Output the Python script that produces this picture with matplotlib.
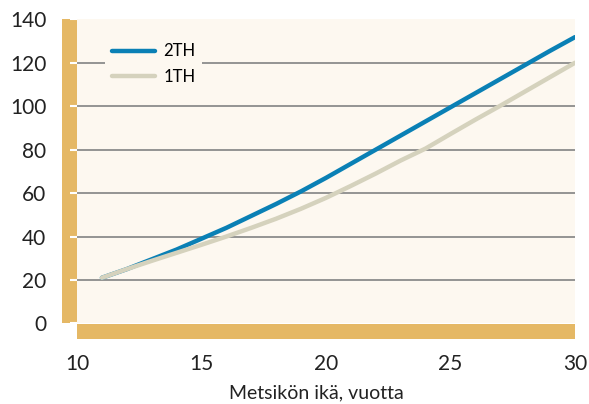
import matplotlib.pyplot as plt
from matplotlib.patches import Rectangle

# Data
age = [11, 12, 13, 14, 15, 16, 17, 18, 19, 20,
       21, 22, 23, 24, 25, 26, 27, 28, 29, 30]
th2 = [21, 25, 29.5, 34, 39, 44, 49.5, 55, 60.8, 67,
       73.5, 80, 86.5, 93, 99.5, 106, 112.5, 119, 125.5, 131.8]
th1 = [21, 25, 28.8, 32.5, 36.2, 40, 44, 48.2, 52.8, 57.8,
       63.3, 69, 75, 80.5, 87.2, 93.8, 100.2, 106.8, 113.4, 120]
x_ticks = [10, 15, 20, 25, 30]
y_ticks = [0, 20, 40, 60, 80, 100, 120, 140]

blue = "#0a80b5"
beige = "#d5d2bd"
gold = "#e5b865"
cream = "#fdf8f0"

plt.rcParams['font.family'] = ['Lato', 'DejaVu Sans']

W, H = 589, 404
fig = plt.figure(figsize=(W / 100, H / 100), dpi=100)
ax = fig.add_axes([77 / W, (H - 323.4) / H, (575 - 77) / W, (323.4 - 19.3) / H])
ax.set_facecolor(cream)

ax.set_xlim(10, 30)
ax.set_ylim(0, 140)
ax.set_xticks(x_ticks)
ax.set_yticks(y_ticks)

for y in y_ticks[1:-1]:
    ax.axhline(y, color="#8c8c8c", lw=1.3, zorder=1)

ax.plot(age, th2, color=blue, lw=3.2, solid_capstyle="round", label="2TH", zorder=2)
ax.plot(age, th1, color=beige, lw=3.2, solid_capstyle="round", label="1TH", zorder=3)

for s in ax.spines.values():
    s.set_visible(False)

# golden bars along the axes
ax.add_patch(Rectangle((-15 / 498, 0), 15 / 498, 1, transform=ax.transAxes,
                       facecolor=gold, edgecolor="none", clip_on=False, zorder=0))
ax.add_patch(Rectangle((0, -16 / 304.1), 1, 15.5 / 304.1, transform=ax.transAxes,
                       facecolor=gold, edgecolor="none", clip_on=False, zorder=0))

ax.tick_params(axis="y", direction="out", length=5, width=1.5, color="white",
               pad=17, labelsize=15, labelcolor="#222222")
ax.tick_params(axis="x", length=0, pad=22, labelsize=15, labelcolor="#222222")

ax.set_xlabel("Metsikön ikä, vuotta", fontsize=14, color="#222222", labelpad=4)
ax.xaxis.set_label_coords(0.48, -0.2)

leg = ax.legend(loc="upper left", bbox_to_anchor=(0.04, 0.97), frameon=True,
                fontsize=12, handlelength=2.6, handletextpad=0.5, labelspacing=0.55,
                borderpad=0.4)
leg.get_frame().set_facecolor(cream)
leg.get_frame().set_edgecolor("none")
leg.get_frame().set_alpha(1)

fig.savefig("out.png", dpi=100)
